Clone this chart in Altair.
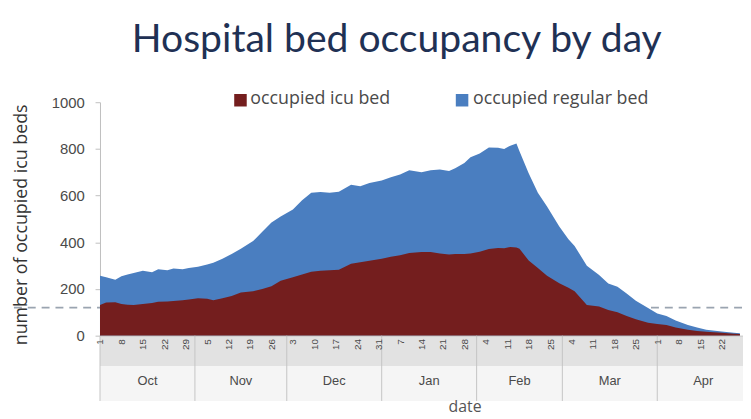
import altair as alt
import pandas as pd

title_text = "Hospital bed occupancy by day"
series_icu = "occupied icu bed"
series_regular = "occupied regular bed"
y_title = "number of occupied icu beds"
x_title = "date"

# day offsets from 1 Oct 2020
day_offsets = [0, 2, 5, 7, 9, 11, 14, 17, 19, 22, 24, 27, 29, 32, 35, 37, 40, 43, 46, 50,
               53, 56, 59, 63, 66, 69, 72, 75, 78, 82, 85, 88, 92, 95, 98, 101, 105, 108,
               111, 114, 116, 119, 121, 124, 127, 130, 132, 134, 136, 137, 140, 143, 146,
               150, 153, 155, 159, 163, 166, 169, 172, 175, 179, 182, 185, 188, 192, 195,
               198, 203, 207, 209]
# top of the blue area (all occupied beds)
total_beds = [257, 250, 240, 255, 262, 268, 278, 272, 285, 280, 288, 284, 290, 295, 305, 312,
              330, 350, 372, 405, 445, 485, 510, 540, 580, 612, 615, 612, 616, 646, 640, 654,
              665, 679, 690, 709, 700, 709, 712, 705, 717, 740, 764, 780, 806, 805, 800, 814,
              823, 790, 696, 612, 553, 468, 413, 384, 300, 260, 224, 210, 181, 150, 118, 95,
              84, 65, 46, 35, 25, 18, 13, 10]
# top of the maroon area (icu beds)
icu_beds = [131, 142, 143, 136, 132, 131, 136, 140, 145, 146, 148, 152, 155, 160, 158, 152,
            160, 170, 185, 190, 200, 212, 235, 250, 262, 274, 278, 280, 282, 308, 315, 321,
            330, 338, 345, 354, 358, 358, 352, 348, 350, 350, 352, 360, 371, 376, 374, 380,
            378, 372, 322, 290, 257, 225, 205, 190, 131, 125, 110, 100, 84, 70, 55, 50,
            46, 35, 25, 20, 17, 12, 8, 7]

y_ticks = [0, 200, 400, 600, 800, 1000]
threshold = [120]

month_names = ["Oct", "Nov", "Dec", "Jan", "Feb", "Mar", "Apr"]
month_starts = ["2020-10-01", "2020-11-01", "2020-12-01", "2021-01-01",
                "2021-02-01", "2021-03-01", "2021-04-01"]
month_mids = ["2020-10-16T12:00:00", "2020-11-16T00:00:00", "2020-12-16T12:00:00",
              "2021-01-16T12:00:00", "2021-02-15T00:00:00", "2021-03-16T12:00:00",
              "2021-04-16T00:00:00"]
tick_days = ["2020-10-01", "2020-10-08", "2020-10-15", "2020-10-22", "2020-10-29",
             "2020-11-05", "2020-11-12", "2020-11-19", "2020-11-26",
             "2020-12-03", "2020-12-10", "2020-12-17", "2020-12-24", "2020-12-31",
             "2021-01-07", "2021-01-14", "2021-01-21", "2021-01-28",
             "2021-02-04", "2021-02-11", "2021-02-18", "2021-02-25",
             "2021-03-04", "2021-03-11", "2021-03-18", "2021-03-25",
             "2021-04-01", "2021-04-08", "2021-04-15", "2021-04-22"]
domain_dates = ["2020-10-01", "2021-04-29"]

ICU = "#741e1e"
REG = "#4a7ec0"
TXT = "#4a4a4a"
W, H = 650, 236


def ms(s):
    return int(pd.Timestamp(s, tz="UTC").timestamp() * 1000)


start = pd.Timestamp("2020-10-01")
df = pd.DataFrame({
    "date": [(start + pd.Timedelta(days=d)).strftime("%Y-%m-%d") for d in day_offsets],
    "total": total_beds,
    "icu": icu_beds,
})

x_scale = alt.Scale(type="utc", domain=[ms(d) for d in domain_dates])
y_scale = alt.Scale(domain=[0, 1000], nice=False)

x_axis = alt.Axis(values=[ms(d) for d in tick_days], format="%-d", labelAngle=270,
                  title=None, grid=False, ticks=False, domainColor="#bfbfbf",
                  labelFontSize=10, labelColor=TXT, labelFont="Liberation Sans",
                  labelPadding=3, labelFlush=False, labelOverlap=False, zindex=1)
y_axis = alt.Axis(values=y_ticks, format="d", title=None, grid=False, tickColor="#bfbfbf",
                  tickSize=5, domainColor="#bfbfbf", labelFontSize=15, labelColor=TXT,
                  labelFont="Liberation Sans", labelPadding=11)


def X():
    return alt.X("date:T", scale=x_scale, axis=x_axis)


# axis bands below the plot
band_df = pd.DataFrame({"k": [0]})
day_band = alt.Chart(band_df).mark_rect(color="#e2e2e2").encode(
    x=alt.value(0), x2=alt.value(W), y=alt.value(H + 1), y2=alt.value(H + 31))
month_band = alt.Chart(band_df).mark_rect(color="#f5f5f5").encode(
    x=alt.value(0), x2=alt.value(W), y=alt.value(H + 31), y2=alt.value(H + 66))

dash = alt.Chart(pd.DataFrame({"total": threshold})).mark_rule(
    color="#9aa4b0", strokeDash=[8, 6], strokeWidth=1.6).encode(
    y=alt.Y("total:Q", scale=y_scale, axis=y_axis), x=alt.value(-101), x2=alt.value(W))

reg_area = alt.Chart(df).mark_area(color=REG).encode(
    x=X(), y=alt.Y("total:Q", scale=y_scale, axis=y_axis))
icu_area = alt.Chart(df).mark_area(color=ICU).encode(
    x=X(), y=alt.Y("icu:Q", scale=y_scale, axis=y_axis))

mdf = pd.DataFrame({"date": month_starts})
month_rules = alt.Chart(mdf).mark_rule(color="#c4c4c4", strokeWidth=1).encode(
    x=X(), y=alt.value(H), y2=alt.value(H + 66))
mtdf = pd.DataFrame({"date": month_mids, "name": month_names})
month_text = alt.Chart(mtdf).mark_text(fontSize=13, color=TXT, font="Liberation Sans",
                                       baseline="middle").encode(
    x=X(), y=alt.value(H + 46), text="name:N")

one = pd.DataFrame({"k": [0]})
title = alt.Chart(one).mark_text(text=title_text, font="Lato", fontSize=39.5,
                                 color="#1f3154", align="center", baseline="alphabetic").encode(
    x=alt.value(300), y=alt.value(-51))
leg_sq1 = alt.Chart(one).mark_square(size=160, color=ICU, opacity=1).encode(
    x=alt.value(142), y=alt.value(-2))
leg_tx1 = alt.Chart(one).mark_text(text=series_icu, font="Open Sans", fontSize=18, color=TXT,
                                   align="left", baseline="middle").encode(
    x=alt.value(152), y=alt.value(-3))
leg_sq2 = alt.Chart(one).mark_square(size=160, color=REG, opacity=1).encode(
    x=alt.value(366), y=alt.value(-2))
leg_tx2 = alt.Chart(one).mark_text(text=series_regular, font="Open Sans", fontSize=18,
                                   color=TXT, align="left", baseline="middle").encode(
    x=alt.value(377), y=alt.value(-3))
ytitle = alt.Chart(one).mark_text(text=y_title, font="Open Sans", fontSize=18, color="#333333",
                                  angle=270, align="center", baseline="middle").encode(
    x=alt.value(-79), y=alt.value(124))
xtitle = alt.Chart(one).mark_text(text=x_title, font="Open Sans", fontSize=16, color="#555555",
                                  align="center", baseline="alphabetic").encode(
    x=alt.value(369), y=alt.value(313))

chart = alt.layer(
    day_band, month_band, dash, reg_area, icu_area, month_rules, month_text,
    title, leg_sq1, leg_tx1, leg_sq2, leg_tx2, ytitle, xtitle
).properties(
    width=W, height=H,
    autosize=alt.AutoSizeParams(type="none"),
    padding={"left": 93, "top": 93, "right": 0, "bottom": 82},
).configure_view(strokeWidth=0)

chart.save("out.html", embed_options={"renderer": "svg", "actions": False})
